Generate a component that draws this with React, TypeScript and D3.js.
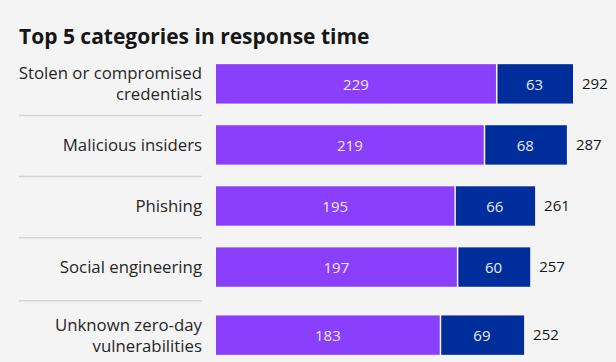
import React from "react";
import * as d3 from "d3";

const categories = [
  "Stolen or compromised credentials",
  "Malicious insiders",
  "Phishing",
  "Social engineering",
  "Unknown zero-day vulnerabilities",
];
const labelLines = [
  ["Stolen or compromised", "credentials"],
  ["Malicious insiders"],
  ["Phishing"],
  ["Social engineering"],
  ["Unknown zero-day", "vulnerabilities"],
];
const identifyDays = [229, 219, 195, 197, 183];
const containDays = [63, 68, 66, 60, 69];
const totals = [292, 287, 261, 257, 252];

const width = 616;
const height = 362;
const font = "'Open Sans', 'Noto Sans', sans-serif";

export default function App() {
  const x = d3.scaleLinear().domain([0, 292]).range([216, 573]);
  const y = d3.scaleBand<string>().domain(categories).range([55, 357]).paddingInner(0.355).paddingOuter(0.15);
  // last row sits a bit lower in the original layout
  const rowTop = (i: number) => (y(categories[i]) as number) + (i === 4 ? 7 : 0);
  const bh = y.bandwidth();

  return (
    <div style={{ position: "absolute", left: 0, top: 0 }}>
      <svg width={width} height={height} style={{ display: "block", background: "#f4f4f4" }}>
        <text x={19} y={44} fontFamily={font} fontSize={21} fontWeight={700} fill="#161616">
          Top 5 categories in response time
        </text>

        {categories.map((c, i) => {
          const top = rowTop(i);
          const cy = top + bh / 2;
          const lines = labelLines[i];
          const x0 = x(0);
          const x1 = x(identifyDays[i]);
          const x2 = x(identifyDays[i] + containDays[i]);
          return (
            <g key={c}>
              {lines.map((ln, j) => (
                <text
                  key={j}
                  x={202}
                  y={cy + (j - (lines.length - 1) / 2) * 21}
                  dy="0.35em"
                  textAnchor="end"
                  fontFamily={font}
                  fontSize={16.8}
                  fill="#262626"
                >
                  {ln}
                </text>
              ))}
              <rect x={x0} y={top} width={x1 - x0} height={bh} fill="#8a3ffc" />
              <rect x={x1 + 1.5} y={top} width={x2 - x1 - 1.5} height={bh} fill="#002d9c" />
              <text x={(x0 + x1) / 2} y={cy + 1} dy="0.35em" textAnchor="middle" fontFamily={font} fontSize={15} fill="#f0e8ff">
                {identifyDays[i]}
              </text>
              <text x={(x1 + x2) / 2} y={cy + 1} dy="0.35em" textAnchor="middle" fontFamily={font} fontSize={15} fill="#e6ecff">
                {containDays[i]}
              </text>
              <text x={x(totals[i]) + 9} y={cy} dy="0.35em" fontFamily={font} fontSize={15} fill="#161616">
                {totals[i]}
              </text>
              {i < categories.length - 1 && (
                <line
                  x1={19}
                  x2={202}
                  y1={top + bh + (i === 3 ? 14 : 12)}
                  y2={top + bh + (i === 3 ? 14 : 12)}
                  stroke="#d4d4d4"
                  strokeWidth={1.5}
                />
              )}
            </g>
          );
        })}
      </svg>
    </div>
  );
}
